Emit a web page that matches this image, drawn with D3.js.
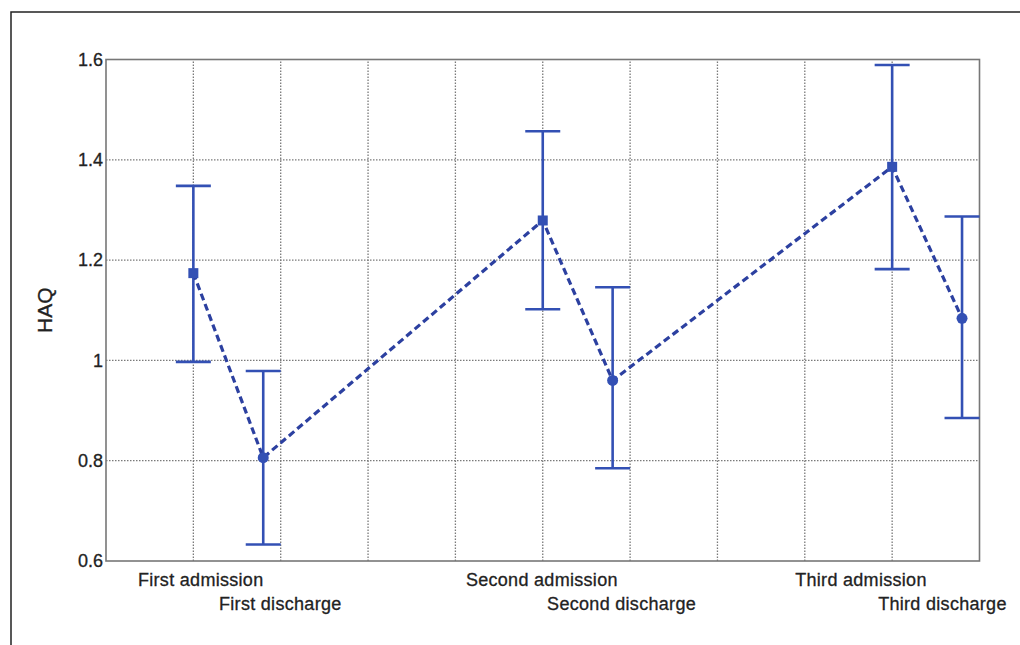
<!DOCTYPE html>
<html>
<head>
<meta charset="utf-8">
<script src="https://cdn.jsdelivr.net/npm/d3@7"></script>
<style>
  html, body { margin: 0; padding: 0; background: #fff; }
  svg { display: block; }
  text { font-family: "Liberation Sans", Arial, Helvetica, sans-serif; fill: #222; }
</style>
</head>
<body>
<svg id="chart" width="1020" height="645"></svg>
<script>
// ---- data ----
const categories = ["First admission", "First discharge", "Second admission", "Second discharge", "Third admission", "Third discharge"];
const xValues = [1, 1.8, 5, 5.8, 9, 9.8];
const means = [1.174, 0.806, 1.279, 0.960, 1.386, 1.084];
const upper = [1.348, 0.979, 1.457, 1.146, 1.589, 1.287];
const lower = [0.997, 0.633, 1.102, 0.785, 1.182, 0.885];
const markerKind = ["square", "circle", "square", "circle", "square", "circle"];
const labelStart = [0.366, 1.294, 4.12, 5.05, 7.89, 8.84];
const labelRow = [0, 1, 0, 1, 0, 1];
const yTicks = [0.6, 0.8, 1, 1.2, 1.4, 1.6];
const xGrid = [1, 2, 3, 4, 5, 6, 7, 8, 9];
const yLabel = "HAQ";

const svg = d3.select("#chart");
const blue = "#3350b4";

// outer frame
svg.append("path")
  .attr("d", "M11,645 L11,12 L1020,12")
  .attr("fill", "none").attr("stroke", "#222").attr("stroke-width", 1.5);

const x = d3.scaleLinear().domain([0, 10]).range([106, 979.5]);
const y = d3.scaleLinear().domain([0.6, 1.6]).range([561, 59.5]);

// grid
const g = svg.append("g");
g.selectAll("line.vg").data(xGrid).join("line")
  .attr("x1", d => x(d)).attr("x2", d => x(d))
  .attr("y1", y(0.6)).attr("y2", y(1.6))
  .attr("stroke", "#7a7a7a").attr("stroke-width", 1.3).attr("stroke-dasharray", "1.5,1.5");
g.selectAll("line.hg").data(yTicks.slice(1, -1)).join("line")
  .attr("x1", x(0)).attr("x2", x(10))
  .attr("y1", d => y(d)).attr("y2", d => y(d))
  .attr("stroke", "#7a7a7a").attr("stroke-width", 1.3).attr("stroke-dasharray", "1.5,1.5");

// axis box
svg.append("rect")
  .attr("x", x(0)).attr("y", y(1.6))
  .attr("width", x(10) - x(0)).attr("height", y(0.6) - y(1.6))
  .attr("fill", "none").attr("stroke", "#777").attr("stroke-width", 1.6);

// y axis labels
const yAxis = d3.axisLeft(y).tickValues(yTicks).tickSize(0).tickPadding(3)
  .tickFormat(d => d3.format("")(d));
const ya = svg.append("g").attr("transform", `translate(${x(0)},0)`).call(yAxis);
ya.select(".domain").remove();
ya.selectAll("text").style("font-size", "18px")
  .style("font-family", "'Liberation Sans', Arial, sans-serif")
  .attr("fill", "#222").attr("stroke", "#222").attr("stroke-width", 0.3);

svg.append("text")
  .attr("transform", `translate(52,${(y(0.6) + y(1.6)) / 2}) rotate(-90)`)
  .attr("text-anchor", "middle")
  .style("font-size", "21px")
  .attr("stroke", "#222").attr("stroke-width", 0.3)
  .text(yLabel);

// category labels
svg.selectAll("text.cat").data(categories).join("text")
  .attr("class", "cat")
  .attr("x", (d, i) => x(labelStart[i]))
  .attr("y", (d, i) => 586 + labelRow[i] * 24)
  .attr("text-anchor", "start")
  .style("font-size", "18px")
  .style("letter-spacing", "0.3px")
  .attr("stroke", "#222").attr("stroke-width", 0.3)
  .text(d => d);

const pts = categories.map((c, i) => ({ c, x: xValues[i], m: means[i], hi: upper[i], lo: lower[i], k: markerKind[i] }));

// error bars
const eb = svg.append("g").attr("stroke", blue).attr("stroke-width", 2.6).attr("fill", "none");
eb.selectAll("line.v").data(pts).join("line")
  .attr("x1", d => x(d.x)).attr("x2", d => x(d.x))
  .attr("y1", d => y(d.lo)).attr("y2", d => y(d.hi));
eb.selectAll("line.t").data(pts).join("line")
  .attr("x1", d => x(d.x) - 17.5).attr("x2", d => x(d.x) + 17.5)
  .attr("y1", d => y(d.hi)).attr("y2", d => y(d.hi));
eb.selectAll("line.b").data(pts).join("line")
  .attr("x1", d => x(d.x) - 17.5).attr("x2", d => x(d.x) + 17.5)
  .attr("y1", d => y(d.lo)).attr("y2", d => y(d.lo));

// dashed mean line
const line = d3.line().x(d => x(d.x)).y(d => y(d.m));
svg.append("path").datum(pts)
  .attr("d", line)
  .attr("fill", "none").attr("stroke", "#2c40a0").attr("stroke-width", 3.2)
  .attr("stroke-dasharray", "7,4");

// markers
svg.selectAll("rect.mk").data(pts.filter(d => d.k === "square")).join("rect")
  .attr("x", d => x(d.x) - 5).attr("y", d => y(d.m) - 5)
  .attr("width", 10).attr("height", 10).attr("fill", blue);
svg.selectAll("circle.mk").data(pts.filter(d => d.k === "circle")).join("circle")
  .attr("cx", d => x(d.x)).attr("cy", d => y(d.m)).attr("r", 5.5).attr("fill", blue);
</script>
</body>
</html>
